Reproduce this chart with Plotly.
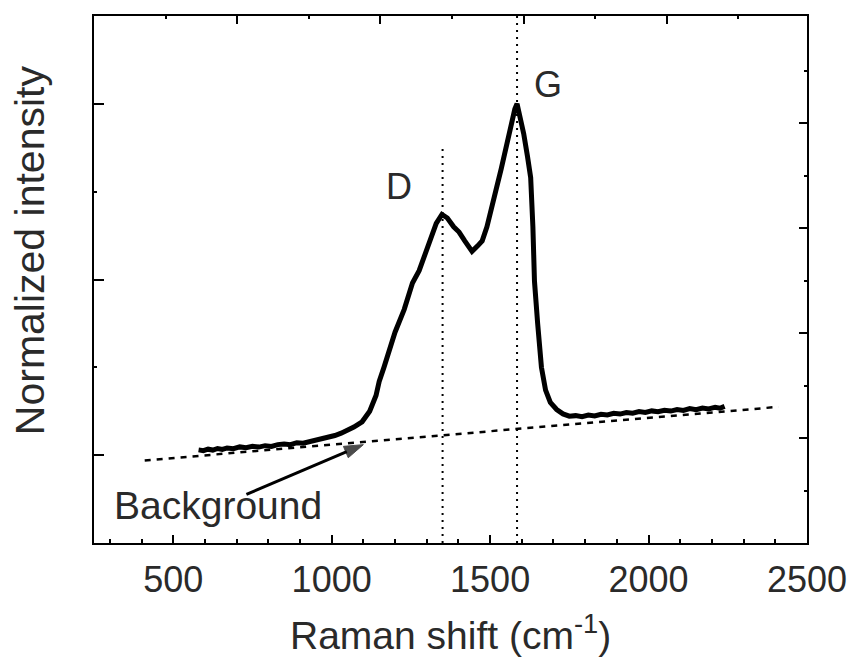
import plotly.graph_objects as go

# Raman spectrum
shift = [580, 595, 610, 625, 640, 655, 670, 690, 710, 730, 750, 770, 790, 810, 830, 850,
         870, 890, 910, 930, 950, 970, 990, 1010, 1030, 1050, 1070, 1096, 1120, 1140,
         1150, 1165, 1181, 1200, 1229, 1255, 1276, 1295, 1310, 1330, 1348, 1365, 1385,
         1402, 1420, 1443, 1460, 1475, 1490, 1505, 1520, 1535, 1550, 1565, 1578, 1585,
         1595, 1606, 1618, 1628, 1635, 1640, 1650, 1662, 1675, 1690, 1710, 1730, 1750,
         1770, 1790, 1810, 1830, 1850, 1870, 1890, 1910, 1930, 1950, 1970, 1990, 2010,
         2030, 2050, 2070, 2090, 2110, 2130, 2150, 2170, 2190, 2210, 2225, 2240]
intensity = [0.03, 0.026, 0.034, 0.029, 0.038, 0.033, 0.041, 0.037, 0.047, 0.043, 0.05,
             0.046, 0.054, 0.05, 0.06, 0.064, 0.06, 0.071, 0.068, 0.077, 0.082, 0.088,
             0.10, 0.112, 0.125, 0.14, 0.16, 0.19, 0.25, 0.34, 0.42, 0.50, 0.60, 0.70,
             0.83, 0.98, 1.05, 1.15, 1.22, 1.32, 1.37, 1.35, 1.30, 1.27, 1.22, 1.16,
             1.19, 1.22, 1.30, 1.40, 1.52, 1.63, 1.75, 1.88, 1.97, 2.0, 1.93, 1.83, 1.70,
             1.58, 1.30, 0.99, 0.75, 0.50, 0.37, 0.30, 0.26, 0.235, 0.222, 0.225, 0.219,
             0.228, 0.223, 0.233, 0.229, 0.238, 0.234, 0.243, 0.239, 0.248, 0.243, 0.252,
             0.247, 0.256, 0.251, 0.26, 0.255, 0.265, 0.259, 0.268, 0.263, 0.273, 0.267,
             0.278]

background_x = [410, 2410]
background_y = [-0.03, 0.275]

arrow_x = [731, 1100]
arrow_y = [-0.223, 0.06]

d_band = 1350
g_band = 1585
d_line_y = [-0.5, 1.76]
g_line_y = [-0.5, 2.5]

x_ticks = [500, 1000, 1500, 2000, 2500]
x_tick_labels = ["500", "1000", "1500", "2000", "2500"]

FONT = "Arial, Liberation Sans, sans-serif"
TXT = "#2a2a2a"

fig = go.Figure()
fig.add_trace(go.Scatter(x=background_x, y=background_y, mode="lines",
                         line=dict(color="black", width=2.5, dash="6px,6px"),
                         showlegend=False, hoverinfo="skip"))
fig.add_trace(go.Scatter(x=[d_band, d_band], y=d_line_y, mode="lines",
                         line=dict(color="black", width=2, dash="2px,5px"),
                         showlegend=False, hoverinfo="skip"))
fig.add_trace(go.Scatter(x=[g_band, g_band], y=g_line_y, mode="lines",
                         line=dict(color="black", width=2, dash="2px,5px"),
                         showlegend=False, hoverinfo="skip"))
fig.add_trace(go.Scatter(x=shift, y=intensity, mode="lines",
                         line=dict(color="black", width=5),
                         showlegend=False))
fig.add_trace(go.Scatter(x=arrow_x, y=arrow_y, mode="lines+markers",
                         line=dict(color="black", width=3),
                         marker=dict(symbol="arrow", size=[0, 20], angleref="previous",
                                     color="black", line=dict(color="black", width=1)),
                         showlegend=False, hoverinfo="skip"))
# dummy trace to display mirrored frame axes
fig.add_trace(go.Scatter(x=[None], y=[None], xaxis="x2", yaxis="y2",
                         showlegend=False, hoverinfo="skip"))

fig.update_layout(
    width=859, height=658,
    margin=dict(l=94, r=50, t=16, b=115),
    paper_bgcolor="white", plot_bgcolor="white",
    font=dict(family=FONT, color=TXT),
    xaxis=dict(range=[250, 2500], tickmode="array", tickvals=x_ticks,
               ticktext=x_tick_labels, ticks="inside", ticklen=8, tickwidth=2,
               tickcolor="black", showline=True, linewidth=2, linecolor="black",
               showgrid=False, zeroline=False, tickfont=dict(size=36, color=TXT),
               ticklabelstandoff=4,
               minor=dict(dtick=100, tick0=0, ticks="inside", ticklen=4,
                          tickwidth=2, tickcolor="black", showgrid=False)),
    yaxis=dict(range=[-0.5, 2.5], tickmode="array", tickvals=[0, 1, 2],
               showticklabels=False, ticks="inside", ticklen=10, tickwidth=2,
               tickcolor="black", showline=True, linewidth=2, linecolor="black",
               showgrid=False, zeroline=False,
               minor=dict(tickmode="array", tickvals=[0.5, 1.5], ticks="inside",
                          ticklen=3, tickwidth=2, tickcolor="black", showgrid=False)),
    xaxis2=dict(overlaying="x", side="top", anchor="y", range=[0, 4.98],
                tickmode="array", tickvals=[1, 2, 3, 4], showticklabels=False,
                ticks="inside", ticklen=8, tickwidth=2, tickcolor="black",
                showline=True, linewidth=2, linecolor="black", showgrid=False,
                zeroline=False,
                minor=dict(tickmode="array", tickvals=[0.5, 1.5, 2.5, 3.5, 4.5],
                           ticks="inside", ticklen=3, tickwidth=2, tickcolor="black",
                           showgrid=False)),
    yaxis2=dict(overlaying="y", side="right", anchor="x", range=[0, 5.02],
                tickmode="array", tickvals=[1, 2, 3, 4], showticklabels=False,
                ticks="inside", ticklen=8, tickwidth=2, tickcolor="black",
                showline=True, linewidth=2, linecolor="black", showgrid=False,
                zeroline=False,
                minor=dict(tickmode="array", tickvals=[0.5, 1.5, 2.5, 3.5, 4.5],
                           ticks="inside", ticklen=3, tickwidth=2, tickcolor="black",
                           showgrid=False)),
)

annotations = [
    dict(text="Raman shift (cm<sup>-1</sup>)", xref="paper", yref="paper",
         x=0.5007, y=-0.169, xanchor="center", yanchor="middle", showarrow=False,
         font=dict(size=39, color=TXT, family=FONT)),
    dict(text="Normalized intensity", xref="paper", yref="paper",
         x=-0.0895, y=0.556, xanchor="center", yanchor="middle", textangle=-90,
         showarrow=False, font=dict(size=41, color=TXT, family=FONT)),
    dict(text="D", x=1213, y=1.53, xref="x", yref="y", showarrow=False,
         font=dict(size=36, color=TXT, family=FONT)),
    dict(text="G", x=1682, y=2.11, xref="x", yref="y", showarrow=False,
         font=dict(size=36, color=TXT, family=FONT)),
    dict(text="Background", x=640, y=-0.286, xref="x", yref="y", showarrow=False,
         font=dict(size=39, color=TXT, family=FONT)),
]
fig.update_layout(annotations=annotations)

fig.write_html("out.html")
